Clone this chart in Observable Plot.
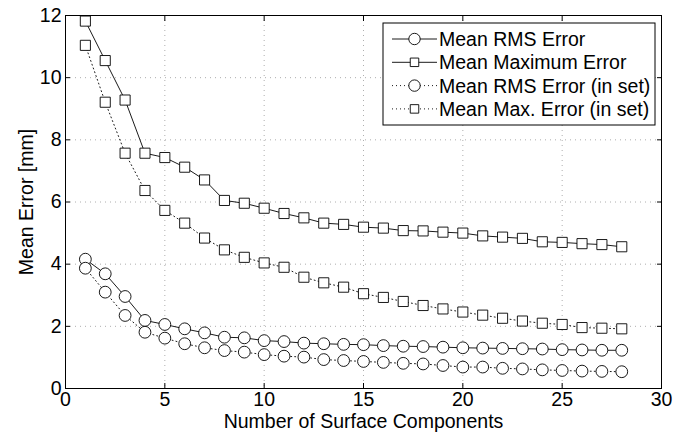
<!DOCTYPE html>
<html><head><meta charset="utf-8">
<script src="https://cdn.jsdelivr.net/npm/d3@7"></script>
<script src="https://cdn.jsdelivr.net/npm/@observablehq/plot@0.6"></script>
<style>
body{margin:0;background:#fff}
svg{font-family:"Liberation Sans",Arial,Helvetica,sans-serif}
</style>
</head><body><div id="chart"></div>
<script>
const components = [1,2,3,4,5,6,7,8,9,10,11,12,13,14,15,16,17,18,19,20,21,22,23,24,25,26,27,28];
const meanRMS = [4.16,3.69,2.96,2.19,2.06,1.92,1.79,1.65,1.63,1.54,1.51,1.46,1.44,1.42,1.41,1.38,1.36,1.35,1.33,1.31,1.30,1.29,1.28,1.27,1.25,1.24,1.23,1.23];
const meanMax = [11.82,10.55,9.28,7.57,7.43,7.12,6.71,6.05,5.96,5.80,5.63,5.49,5.32,5.28,5.19,5.16,5.08,5.07,5.03,5.00,4.91,4.87,4.83,4.72,4.70,4.66,4.63,4.56];
const meanRMSInSet = [3.87,3.10,2.35,1.81,1.62,1.44,1.31,1.22,1.17,1.09,1.04,1.01,0.93,0.90,0.87,0.84,0.81,0.79,0.74,0.69,0.69,0.65,0.63,0.60,0.58,0.56,0.55,0.54];
const meanMaxInSet = [11.04,9.21,7.57,6.37,5.73,5.32,4.84,4.46,4.22,4.04,3.90,3.58,3.40,3.26,3.05,2.93,2.80,2.67,2.56,2.46,2.36,2.26,2.17,2.10,2.06,1.96,1.94,1.92];
const seriesNames = ["Mean RMS Error","Mean Maximum Error","Mean RMS Error (in set)","Mean Max. Error (in set)"];
const seriesSymbols = ["circle","square","circle","square"];
const seriesDash = [null,null,"1,3","1,3"];
const xTicks = [0,5,10,15,20,25,30];
const yTicks = [0,2,4,6,8,10,12];
const xGrid = [5,10,15,20,25];
const yGrid = [2,4,6,8,10];
const xLabel = "Number of Surface Components";
const yLabel = "Mean Error [mm]";

const FS = 19.5;
const seriesValues = [meanRMS, meanMax, meanRMSInSet, meanMaxInSet];
const rows = seriesValues.flatMap((vals, s) => vals.map((v, i) => ({x: components[i], y: v, s})));

const marks = [
  Plot.gridX(xGrid, {stroke: "#999", strokeOpacity: 1, strokeWidth: 0.8, strokeDasharray: "1,4"}),
  Plot.gridY(yGrid, {stroke: "#999", strokeOpacity: 1, strokeWidth: 0.8, strokeDasharray: "1,4"}),
];
seriesValues.forEach((vals, s) => {
  const data = rows.filter(d => d.s === s);
  marks.push(Plot.line(data, {x: "x", y: "y", stroke: "black", strokeWidth: 0.9, strokeDasharray: seriesDash[s]}));
});
seriesValues.forEach((vals, s) => {
  const data = rows.filter(d => d.s === s);
  marks.push(Plot.dot(data, {x: "x", y: "y", symbol: seriesSymbols[s], r: seriesSymbols[s] === "circle" ? 5.9 : 5.7, fill: "white", stroke: "black", strokeWidth: 0.9}));
});
marks.push(
  Plot.frame({stroke: "black", strokeWidth: 1}),
  Plot.axisX(xTicks, {anchor: "bottom", tickSize: -5, tickFormat: () => "", label: null}),
  Plot.axisX(xTicks, {anchor: "top", tickSize: -5, tickFormat: () => "", label: null}),
  Plot.axisY(yTicks, {anchor: "left", tickSize: -5, tickFormat: () => "", label: null}),
  Plot.axisY(yTicks, {anchor: "right", tickSize: -5, tickFormat: () => "", label: null}),
  Plot.axisX(xTicks, {anchor: "bottom", tickSize: 0, tickPadding: 4, fontSize: FS, label: xLabel, labelAnchor: "center", labelArrow: "none", labelOffset: 39}),
  Plot.axisY(yTicks, {anchor: "left", tickSize: 0, tickPadding: 4, fontSize: FS, label: yLabel, labelAnchor: "center", labelArrow: "none", labelOffset: 46})
);

const chart = Plot.plot({
  width: 688, height: 436,
  marginLeft: 65, marginRight: 27, marginTop: 15, marginBottom: 48,
  style: {fontFamily: "Liberation Sans, Arial, sans-serif", fontSize: FS + "px", background: "white", color: "black", overflow: "visible"},
  x: {domain: [0, 30]},
  y: {domain: [0, 12]},
  marks
});
d3.select(chart).selectAll("text").attr("font-size", FS);
document.getElementById("chart").appendChild(chart);

// legend
const svg = d3.select(chart);
const lg = svg.append("g").attr("class", "legend").attr("text-anchor", "start");
const bx = 383, by = 23, bw = 272, bh = 102, rowH = 23.3;
lg.append("rect").attr("x", bx).attr("y", by).attr("width", bw).attr("height", bh)
  .attr("fill", "white").attr("stroke", "black").attr("stroke-width", 1);
seriesNames.forEach((name, i) => {
  const cy = by + 16 + i * rowH;
  lg.append("line").attr("x1", bx + 9).attr("x2", bx + 54).attr("y1", cy).attr("y2", cy)
    .attr("stroke", "black").attr("stroke-width", 0.9).attr("stroke-dasharray", seriesDash[i]);
  const sym = d3.symbol().type(seriesSymbols[i] === "circle" ? d3.symbolCircle : d3.symbolSquare)
    .size(seriesSymbols[i] === "circle" ? Math.PI * 5.7 * 5.7 : 8.5 * 8.5);
  lg.append("path").attr("d", sym()).attr("transform", `translate(${bx + 31.5},${cy})`)
    .attr("fill", "white").attr("stroke", "black").attr("stroke-width", 0.9);
  lg.append("text").attr("x", bx + 56).attr("y", cy).attr("dy", "0.36em")
    .attr("font-size", FS).attr("fill", "black").text(name);
});
</script></body></html>
